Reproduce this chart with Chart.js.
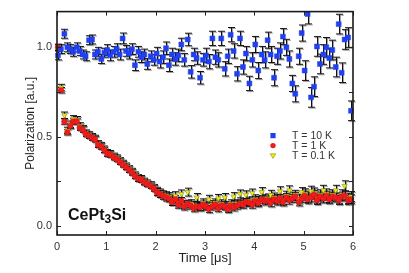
<!DOCTYPE html>
<html><head><meta charset="utf-8">
<script src="https://cdn.jsdelivr.net/npm/chart.js@4/dist/chart.umd.min.js"></script>
<style>html,body{margin:0;padding:0;background:#fff;}#wrap{width:409px;height:273px;position:relative;}</style>
</head><body><div id="wrap"><canvas id="c" width="409" height="273"></canvas></div>
<script>
const times = [0.02,0.08,0.15,0.21,0.27,0.33,0.40,0.46,0.52,0.58,0.65,0.71,0.77,0.83,0.90,0.96,
1.02,1.08,1.15,1.21,1.27,1.33,1.40,1.46,1.52,1.58,1.65,1.71,1.77,1.83,1.90,1.96,
2.02,2.08,2.15,2.21,2.27,2.33,2.40,2.46,2.52,2.58,2.65,2.71,2.77,2.83,2.90,2.96,
3.02,3.08,3.15,3.21,3.27,3.33,3.40,3.46,3.52,3.58,3.65,3.71,3.77,3.83,3.90,3.96,
4.02,4.08,4.15,4.21,4.27,4.33,4.40,4.46,4.52,4.58,4.65,4.71,4.77,4.83,4.90,4.96,
5.02,5.08,5.15,5.21,5.27,5.33,5.40,5.46,5.52,5.58,5.65,5.71,5.77,5.83,5.90,5.96];

const pol10K = [0.955,0.99,1.076,1.0,0.99,0.975,1.0,0.98,0.96,0.95,1.04,1.044,0.96,0.975,0.935,0.97,
0.985,0.955,0.975,0.99,0.96,1.05,0.98,0.965,0.99,0.90,0.975,0.945,0.96,0.907,0.95,0.93,
0.965,0.92,0.945,0.995,0.90,0.96,0.935,0.955,1.016,0.93,1.044,0.863,0.96,0.94,0.83,0.93,
0.955,0.92,1.05,0.945,0.93,1.05,0.88,0.95,1.071,0.98,0.852,1.05,0.89,0.965,0.798,0.93,
1.016,0.87,0.96,0.93,1.04,0.96,0.83,0.95,0.98,1.06,1.0,0.935,0.798,0.74,0.95,1.08,
0.87,1.186,0.72,0.78,1.005,0.907,0.96,1.0,0.94,0.985,0.89,1.13,0.858,1.044,1.055,0.645];
const err10K = [0.025,0.025,0.025,0.025,0.025,0.025,0.025,0.025,0.025,0.025,0.025,0.025,0.025,0.025,0.025,0.025,
0.03,0.03,0.03,0.03,0.03,0.03,0.03,0.03,0.03,0.03,0.03,0.03,0.03,0.03,0.03,0.03,
0.035,0.035,0.035,0.035,0.035,0.035,0.035,0.035,0.035,0.035,0.035,0.035,0.035,0.035,0.035,0.035,
0.04,0.04,0.04,0.04,0.04,0.04,0.04,0.04,0.04,0.04,0.04,0.04,0.04,0.04,0.04,0.04,
0.045,0.045,0.045,0.045,0.045,0.045,0.045,0.045,0.045,0.045,0.045,0.045,0.045,0.045,0.045,0.045,
0.055,0.055,0.055,0.055,0.055,0.055,0.055,0.055,0.055,0.055,0.055,0.055,0.055,0.055,0.055,0.055];

const pol1K = [1.0,0.76,0.585,0.525,0.56,0.585,0.585,0.55,0.54,0.515,0.505,0.495,0.485,0.455,0.445,0.425,
0.405,0.40,0.385,0.375,0.36,0.345,0.33,0.315,0.30,0.28,0.265,0.26,0.245,0.235,0.225,0.21,
0.19,0.18,0.17,0.16,0.155,0.135,0.15,0.12,0.14,0.11,0.125,0.115,0.10,0.11,0.105,0.12,
0.11,0.095,0.11,0.12,0.10,0.115,0.11,0.095,0.115,0.105,0.115,0.125,0.12,0.135,0.13,0.12,
0.14,0.13,0.15,0.14,0.145,0.13,0.15,0.14,0.155,0.135,0.16,0.145,0.155,0.165,0.135,0.155,
0.17,0.15,0.16,0.175,0.145,0.165,0.155,0.17,0.15,0.165,0.16,0.145,0.165,0.17,0.145,0.15];
const err1K = [0.015,0.015,0.015,0.015,0.015,0.015,0.015,0.015,0.015,0.015,0.015,0.015,0.015,0.015,0.015,0.015,
0.015,0.015,0.015,0.015,0.015,0.015,0.015,0.015,0.015,0.015,0.015,0.015,0.015,0.015,0.015,0.015,
0.02,0.02,0.02,0.02,0.02,0.02,0.02,0.02,0.02,0.02,0.02,0.02,0.02,0.02,0.02,0.02,
0.02,0.02,0.02,0.02,0.02,0.02,0.02,0.02,0.02,0.02,0.02,0.02,0.02,0.02,0.02,0.02,
0.022,0.022,0.022,0.022,0.022,0.022,0.022,0.022,0.022,0.022,0.022,0.022,0.022,0.022,0.022,0.022,
0.025,0.025,0.025,0.025,0.025,0.025,0.025,0.025,0.025,0.025,0.025,0.025,0.025,0.025,0.025,0.025];

const pol01K = [1.0,0.775,0.62,0.535,0.57,0.6,0.595,0.56,0.545,0.52,0.51,0.5,0.49,0.46,0.45,0.43,
0.41,0.405,0.39,0.38,0.365,0.35,0.335,0.32,0.305,0.285,0.27,0.265,0.25,0.24,0.23,0.215,
0.195,0.185,0.175,0.17,0.165,0.145,0.17,0.13,0.18,0.12,0.19,0.125,0.115,0.16,0.11,0.13,
0.115,0.15,0.12,0.13,0.155,0.125,0.16,0.105,0.125,0.165,0.125,0.18,0.13,0.175,0.14,0.185,
0.15,0.14,0.19,0.15,0.155,0.175,0.16,0.15,0.195,0.145,0.17,0.2,0.165,0.175,0.15,0.19,
0.18,0.16,0.195,0.185,0.155,0.175,0.2,0.18,0.16,0.175,0.2,0.155,0.175,0.225,0.155,0.165];
const err01K = [0.018,0.018,0.018,0.018,0.018,0.018,0.018,0.018,0.018,0.018,0.018,0.018,0.018,0.018,0.018,0.018,
0.018,0.018,0.018,0.018,0.018,0.018,0.018,0.018,0.018,0.018,0.018,0.018,0.018,0.018,0.018,0.018,
0.022,0.022,0.022,0.022,0.022,0.022,0.022,0.022,0.022,0.022,0.022,0.022,0.022,0.022,0.022,0.022,
0.022,0.022,0.022,0.022,0.022,0.022,0.022,0.022,0.022,0.022,0.022,0.022,0.022,0.022,0.022,0.022,
0.025,0.025,0.025,0.025,0.025,0.025,0.025,0.025,0.025,0.025,0.025,0.025,0.025,0.025,0.025,0.025,
0.028,0.028,0.028,0.028,0.028,0.028,0.028,0.028,0.028,0.028,0.028,0.028,0.028,0.028,0.028,0.028];

const seriesLabels = ['T = 10 K','T = 1 K','T = 0.1 K'];
const xTicks = [0,1,2,3,4,5,6];
const yTicks = [0,0.25,0.5,0.75,1.0];
const yLabeledTicks = [0,0.5,1.0];
const xTitle = 'Time [\u03bcs]';
const yTitle = 'Polarization [a.u.]';
const sampleName = ['CePt','3','Si'];

const FONT = "'Liberation Sans', Arial, Helvetica, sans-serif";
const BLUE = '#2040f0', RED = '#ee1c1c', YEL = '#eeee10';

const toPts = (vals) => vals.map((v,i)=>({x:times[i], y:v}));

const errorBars = {
  id:'errorBars',
  beforeDatasetsDraw(chart){
    const {ctx, scales:{x,y}, chartArea:ca} = chart;
    ctx.save();
    ctx.beginPath();
    ctx.rect(ca.left-6, ca.top, ca.right-ca.left+12, ca.bottom-ca.top);
    ctx.clip();
    for (let di = chart.data.datasets.length-1; di>=0; di--){
      const ds = chart.data.datasets[di];
      const errs = ds.errors;
      ds.data.forEach((p,i)=>{
        const px = Math.round(x.getPixelForValue(p.x))+0.5;
        const yt = y.getPixelForValue(p.y + errs[i]);
        const yb = y.getPixelForValue(p.y - errs[i]);
        const cw = 3.5;
        ctx.strokeStyle = 'rgba(140,140,140,0.8)';
        ctx.lineWidth = 1;
        ctx.beginPath();
        ctx.moveTo(px+1, yt+1); ctx.lineTo(px+1, yb+1);
        ctx.moveTo(px-cw+1, yt+1); ctx.lineTo(px+cw+1, yt+1);
        ctx.moveTo(px-cw+1, yb+1); ctx.lineTo(px+cw+1, yb+1);
        ctx.stroke();
        ctx.strokeStyle = '#111';
        ctx.beginPath();
        ctx.moveTo(px, yt); ctx.lineTo(px, yb);
        ctx.moveTo(px-cw, yt); ctx.lineTo(px+cw, yt);
        ctx.moveTo(px-cw, yb); ctx.lineTo(px+cw, yb);
        ctx.stroke();
      });
    }
    ctx.restore();
  }
};

function marker(ctx, style, color, cx, cy, s){
  ctx.fillStyle = color;
  ctx.beginPath();
  if (style==='rect'){ ctx.rect(cx-s, cy-s, 2*s, 2*s); }
  else if (style==='circle'){ ctx.arc(cx, cy, s+0.3, 0, Math.PI*2); }
  else { ctx.moveTo(cx-s-0.5, cy-s+0.5); ctx.lineTo(cx+s+0.5, cy-s+0.5); ctx.lineTo(cx, cy+s+0.5); ctx.closePath(); }
  ctx.fill();
  if (style==='tri'){ ctx.strokeStyle='#8a8a20'; ctx.lineWidth=0.6; ctx.stroke(); }
}

const frameAndDecor = {
  id:'frameAndDecor',
  afterDraw(chart){
    const {ctx, scales:{x,y}, chartArea:ca} = chart;
    ctx.save();
    ctx.strokeStyle = '#222';
    ctx.lineWidth = 1;
    const tl = 4;
    ctx.beginPath();
    xTicks.forEach(v=>{
      const px = Math.round(x.getPixelForValue(v))+0.5;
      ctx.moveTo(px, ca.bottom); ctx.lineTo(px, ca.bottom-tl);
      ctx.moveTo(px, ca.top); ctx.lineTo(px, ca.top+tl);
    });
    yTicks.forEach(v=>{
      const py = Math.round(y.getPixelForValue(v))+0.5;
      ctx.moveTo(ca.left, py); ctx.lineTo(ca.left+tl, py);
      ctx.moveTo(ca.right, py); ctx.lineTo(ca.right-tl, py);
    });
    ctx.stroke();
    ctx.lineWidth = 1.6;
    ctx.strokeStyle = '#1a1a1a';
    ctx.strokeRect(ca.left, ca.top, ca.right-ca.left, ca.bottom-ca.top);
    const lx = ca.right - 80, ly = ca.top + 124;
    const styles = [['rect',BLUE,2.6],['circle',RED,2.4],['tri',YEL,2.3]];
    ctx.font = '10.5px ' + FONT;
    ctx.textBaseline = 'middle';
    seriesLabels.forEach((lab,i)=>{
      const yy = ly + i*10;
      marker(ctx, styles[i][0], styles[i][1], lx, yy, styles[i][2]);
      ctx.fillStyle = '#333';
      ctx.fillText(lab, lx+19, yy+0.5);
    });
    const sx = ca.left + 11, sy = ca.top + 208;
    ctx.fillStyle = '#111';
    ctx.textBaseline = 'alphabetic';
    ctx.font = 'bold 16px ' + FONT;
    ctx.fillText(sampleName[0], sx, sy);
    let w = ctx.measureText(sampleName[0]).width;
    ctx.font = 'bold 12px ' + FONT;
    ctx.fillText(sampleName[1], sx + w, sy + 3);
    w += ctx.measureText(sampleName[1]).width;
    ctx.font = 'bold 16px ' + FONT;
    ctx.fillText(sampleName[2], sx + w, sy);
    ctx.restore();
  }
};

Chart.defaults.font.family = FONT;

new Chart(document.getElementById('c'), {
  type:'scatter',
  data:{ datasets:[
    { label: seriesLabels[0], data: toPts(pol10K), errors: err10K, pointStyle:'rect', pointRadius:3.5,
      backgroundColor: BLUE, borderColor: BLUE, borderWidth: 0.5, clip: 6 },
    { label: seriesLabels[1], data: toPts(pol1K), errors: err1K, pointStyle:'circle', pointRadius:2.8,
      backgroundColor: RED, borderColor: '#d01010', borderWidth: 0.5, clip: 6 },
    { label: seriesLabels[2], data: toPts(pol01K), errors: err01K, pointStyle:'triangle', rotation:180, pointRadius:3.1,
      backgroundColor: YEL, borderColor: '#8a8a20', borderWidth: 0.6, clip: 6 }
  ]},
  options:{
    responsive:false,
    animation:false,
    devicePixelRatio:1,
    layout:{ padding:{ top:7, right:56, left:0, bottom:0 } },
    plugins:{ legend:{display:false}, tooltip:{enabled:false} },
    scales:{
      x:{
        type:'linear', min:0, max:6,
        grid:{ display:false, drawTicks:false },
        border:{ display:false },
        afterBuildTicks: s => { s.ticks = xTicks.map(v=>({value:v})); },
        afterFit: s => { s.height = 38; },
        ticks:{ color:'#333', font:{ size:11 }, padding:5, maxRotation:0, autoSkip:false,
          callback: v => String(v) },
        title:{ display:true, text:xTitle, color:'#222', font:{ size:13 }, padding:{ top:0, bottom:7 } }
      },
      y:{
        type:'linear', min:-0.05, max:1.2,
        grid:{ display:false, drawTicks:false },
        border:{ display:false },
        afterBuildTicks: s => { s.ticks = yTicks.map(v=>({value:v})); },
        afterFit: s => { s.width = 57; },
        ticks:{ color:'#333', font:{ size:11 }, padding:5, autoSkip:false,
          callback: v => yLabeledTicks.some(t=>Math.abs(t-v)<1e-9) ? v.toFixed(1) : '' },
        title:{ display:true, text:yTitle, color:'#222', font:{ size:12 }, padding:{ top:23, bottom:0 } }
      }
    }
  },
  plugins:[errorBars, frameAndDecor]
});
</script></body></html>
